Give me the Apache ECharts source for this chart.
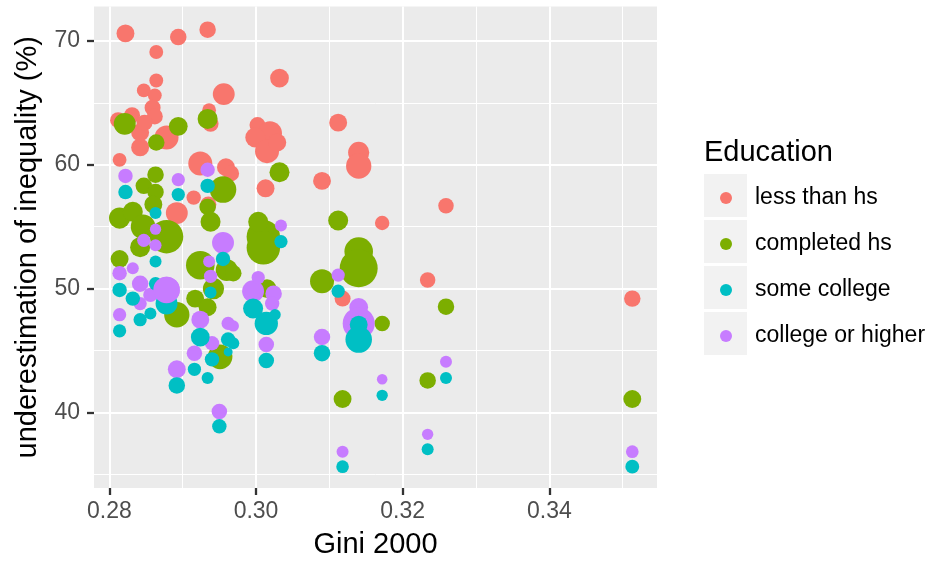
<!DOCTYPE html>
<html>
<head>
<meta charset="utf-8">
<script src="https://cdn.jsdelivr.net/npm/echarts@6/dist/echarts.min.js"></script>
<style>
  html, body { margin: 0; padding: 0; background: #ffffff; }
  #chart { width: 931px; height: 561px; }
</style>
</head>
<body>
<div id="chart"></div>
<script>
const FONT = '"Liberation Sans", Arial, Helvetica, sans-serif';

const educationLevels = ['less than hs', 'completed hs', 'some college', 'college or higher'];
const levelColors = ['#F8766D', '#7CAE00', '#00BFC4', '#C77CFF'];

const xMajorTicks = [0.28, 0.30, 0.32, 0.34];
const xMinorTicks = [0.29, 0.31, 0.33, 0.35];
const yMajorTicks = [40, 50, 60, 70];
const yMinorTicks = [35, 45, 55, 65];

// Each row: [Gini 2000, underestimation of inequality (%), group share]
const lessThanHs = [
  [0.2822, 70.6, 20], [0.2894, 70.3, 17], [0.2934, 70.9, 17], [0.2864, 69.1, 12],
  [0.2864, 66.8, 12], [0.2847, 66.0, 12], [0.2862, 65.6, 12], [0.2956, 65.7, 30],
  [0.3032, 67.0, 22], [0.2859, 64.6, 16], [0.2862, 63.9, 16], [0.2831, 64.0, 16],
  [0.2812, 63.6, 16], [0.2842, 61.4, 20], [0.2878, 62.2, 36], [0.2936, 64.4, 12],
  [0.2938, 63.3, 16], [0.2814, 60.4, 12], [0.2924, 60.1, 36], [0.2959, 59.8, 20],
  [0.2966, 59.3, 16], [0.3002, 63.2, 16], [0.3019, 62.55, 36], [0.2999, 62.2, 25],
  [0.3015, 61.1, 36], [0.3029, 61.8, 20], [0.3090, 58.7, 20], [0.3112, 63.4, 20],
  [0.3140, 61.0, 28], [0.3140, 59.9, 40], [0.3259, 56.7, 15], [0.3172, 55.3, 13],
  [0.3234, 50.7, 15], [0.3118, 49.2, 16], [0.3513, 49.2, 17], [0.2915, 57.35, 13],
  [0.3013, 58.1, 20], [0.2935, 56.8, 16], [0.2892, 56.1, 30], [0.2842, 62.6, 20],
  [0.2848, 63.4, 16]
];

const completedHs = [
  [0.2821, 63.3, 30], [0.2864, 61.8, 17], [0.2894, 63.1, 22], [0.2934, 63.7, 25],
  [0.3032, 59.4, 25], [0.2863, 59.2, 17], [0.2847, 58.3, 17], [0.2863, 57.8, 17],
  [0.2955, 58.0, 44], [0.2934, 56.6, 17], [0.2938, 55.4, 25], [0.2814, 55.7, 28],
  [0.2832, 56.2, 25], [0.2846, 55.0, 38], [0.2878, 54.2, 70], [0.2842, 53.35, 25],
  [0.2814, 52.4, 20], [0.2860, 56.8, 20], [0.2924, 51.9, 51], [0.2960, 51.5, 30],
  [0.2969, 51.25, 17], [0.2942, 50.0, 28], [0.2917, 49.2, 20], [0.2934, 48.5, 20],
  [0.2892, 47.9, 40], [0.2951, 44.5, 38], [0.3010, 54.2, 70], [0.3010, 53.3, 70],
  [0.3003, 55.4, 25], [0.3015, 50.0, 22], [0.3112, 55.5, 25], [0.3140, 53.0, 51],
  [0.3140, 51.65, 90], [0.3090, 50.6, 36], [0.3172, 47.2, 15], [0.3259, 48.55, 17],
  [0.3234, 42.6, 17], [0.3118, 41.1, 20], [0.3513, 41.1, 20]
];

const someCollege = [
  [0.2822, 57.8, 13], [0.2894, 57.6, 11], [0.2934, 58.3, 13], [0.2863, 56.1, 9],
  [0.2863, 52.2, 9], [0.2814, 49.9, 13], [0.2832, 49.2, 13], [0.2863, 50.4, 11],
  [0.2856, 48.0, 9], [0.2842, 47.5, 11], [0.2814, 46.6, 11], [0.2878, 48.8, 30],
  [0.2955, 52.4, 13], [0.2938, 49.7, 9], [0.2924, 46.1, 22], [0.2962, 45.9, 13],
  [0.2969, 45.6, 9], [0.2940, 44.3, 13], [0.2916, 43.5, 11], [0.2962, 44.9, 5],
  [0.2934, 42.8, 9], [0.2892, 42.2, 17], [0.2950, 38.9, 13], [0.2996, 48.4, 25],
  [0.3014, 47.2, 34], [0.3026, 47.9, 8], [0.3014, 44.2, 15], [0.3034, 53.8, 11],
  [0.3112, 49.8, 11], [0.3140, 47.1, 20], [0.3140, 45.9, 44], [0.3090, 44.8, 17],
  [0.3172, 41.4, 8], [0.3259, 42.8, 9], [0.3234, 37.05, 9], [0.3118, 35.64, 10],
  [0.3513, 35.64, 12]
];

const collegeOrHigher = [
  [0.2822, 59.1, 13], [0.2894, 58.8, 11], [0.2934, 59.6, 13], [0.2863, 54.8, 8],
  [0.2863, 53.5, 9], [0.2847, 53.9, 11], [0.2814, 51.25, 13], [0.2832, 51.65, 9],
  [0.2878, 49.9, 44], [0.2842, 50.4, 17], [0.2856, 49.5, 13], [0.2842, 48.8, 11],
  [0.2814, 47.9, 11], [0.2955, 53.7, 30], [0.2936, 52.2, 9], [0.2938, 51.0, 11],
  [0.2924, 47.5, 20], [0.2962, 47.2, 11], [0.2969, 47.0, 8], [0.2940, 45.6, 13],
  [0.2916, 44.8, 15], [0.2892, 43.5, 20], [0.2950, 40.1, 15], [0.2996, 49.8, 30],
  [0.3003, 50.9, 11], [0.3024, 49.6, 17], [0.3022, 48.8, 13], [0.3014, 45.5, 15],
  [0.3034, 55.1, 9], [0.3112, 51.1, 11], [0.3140, 48.5, 22], [0.3140, 47.2, 64],
  [0.3090, 46.1, 17], [0.3172, 42.7, 7], [0.3259, 44.1, 9], [0.3234, 38.25, 8],
  [0.3118, 36.85, 9], [0.3513, 36.85, 10]
];

// rows of collegeOrHigher that are painted above the "some college" bubbles
const collegeRaisedRows = [8];

const groupData = [lessThanHs, completedHs, someCollege, collegeOrHigher];
// drawing order: college or higher mostly sits beneath some college
const drawOrder = [0, 1, 3, 2];

// area-proportional bubble size
const bubbleSize = d => 4 * Math.sqrt(d[2]);

const X_MIN = 0.27791, X_MAX = 0.35467;
const Y_MIN = 33.92, Y_MAX = 72.77;

const chart = echarts.init(document.getElementById('chart'), null, { renderer: 'canvas' });

const tickStyle = { show: true, length: 7, lineStyle: { color: '#333333', width: 2.3 } };
const labelStyle = { color: '#4d4d4d', fontSize: 23, fontFamily: FONT };

const scatterSeries = (levelIndex, rows) => ({
  name: educationLevels[levelIndex],
  type: 'scatter',
  xAxisIndex: 0, yAxisIndex: 0,
  data: rows,
  symbol: 'circle',
  symbolSize: bubbleSize,
  itemStyle: { color: levelColors[levelIndex], opacity: 1 },
  emphasis: { disabled: true }
});

const seriesList = drawOrder.map(i => scatterSeries(i, groupData[i]));
seriesList.push(scatterSeries(3, collegeRaisedRows.map(r => collegeOrHigher[r])));

chart.setOption({
  animation: false,
  backgroundColor: '#ffffff',
  textStyle: { fontFamily: FONT },
  grid: {
    left: 94, top: 6.5, width: 563, height: 481.5,
    show: true, backgroundColor: '#ebebeb', borderWidth: 0,
    containLabel: false, outerBoundsMode: 'none'
  },
  xAxis: [
    {
      type: 'value', min: X_MIN, max: X_MAX, position: 'bottom',
      axisLine: { show: false },
      axisTick: Object.assign({ customValues: xMajorTicks }, tickStyle),
      axisLabel: Object.assign({ customValues: xMajorTicks, margin: 12,
        formatter: v => v.toFixed(2) }, labelStyle),
      splitLine: { show: true, lineStyle: { color: '#ffffff', width: 2 } },
      name: 'Gini 2000', nameLocation: 'middle', nameGap: 42,
      nameTextStyle: { fontSize: 29, color: '#000000', fontFamily: FONT }
    },
    {
      type: 'value', min: X_MIN, max: X_MAX, position: 'bottom',
      axisLine: { show: false },
      axisTick: { show: false, customValues: xMinorTicks },
      axisLabel: { show: false, customValues: xMinorTicks },
      splitLine: { show: true, lineStyle: { color: '#ffffff', width: 1 } }
    }
  ],
  yAxis: [
    {
      type: 'value', min: Y_MIN, max: Y_MAX,
      axisLine: { show: false },
      axisTick: Object.assign({ customValues: yMajorTicks }, tickStyle),
      axisLabel: Object.assign({ customValues: yMajorTicks, margin: 14 }, labelStyle),
      splitLine: { show: true, lineStyle: { color: '#ffffff', width: 2 } },
      name: 'underestimation of inequality (%)', nameLocation: 'middle', nameGap: 52,
      nameTextStyle: { fontSize: 29, color: '#000000', fontFamily: FONT }
    },
    {
      type: 'value', min: Y_MIN, max: Y_MAX,
      axisLine: { show: false },
      axisTick: { show: false, customValues: yMinorTicks },
      axisLabel: { show: false, customValues: yMinorTicks },
      splitLine: { show: true, lineStyle: { color: '#ffffff', width: 1 } }
    }
  ],
  legend: {
    data: educationLevels,
    orient: 'vertical', left: 720, top: 175,
    itemWidth: 12, itemHeight: 12, itemGap: 0, padding: 0,
    icon: 'circle', selectedMode: false,
    textStyle: { fontSize: 23, color: '#000000', lineHeight: 46,
      fontFamily: FONT, padding: [0, 0, 0, 18] }
  },
  graphic: [
    { type: 'text', left: 704, top: 138, z: 10,
      style: { text: 'Education', fontSize: 29, fill: '#000000', fontFamily: FONT } },
    ...educationLevels.map((_, i) => ({
      type: 'rect', left: 704, top: 174 + 46 * i, z: -1, silent: true,
      shape: { width: 43, height: 43 }, style: { fill: '#f2f2f2' }
    }))
  ],
  series: seriesList
});
</script>
</body>
</html>
